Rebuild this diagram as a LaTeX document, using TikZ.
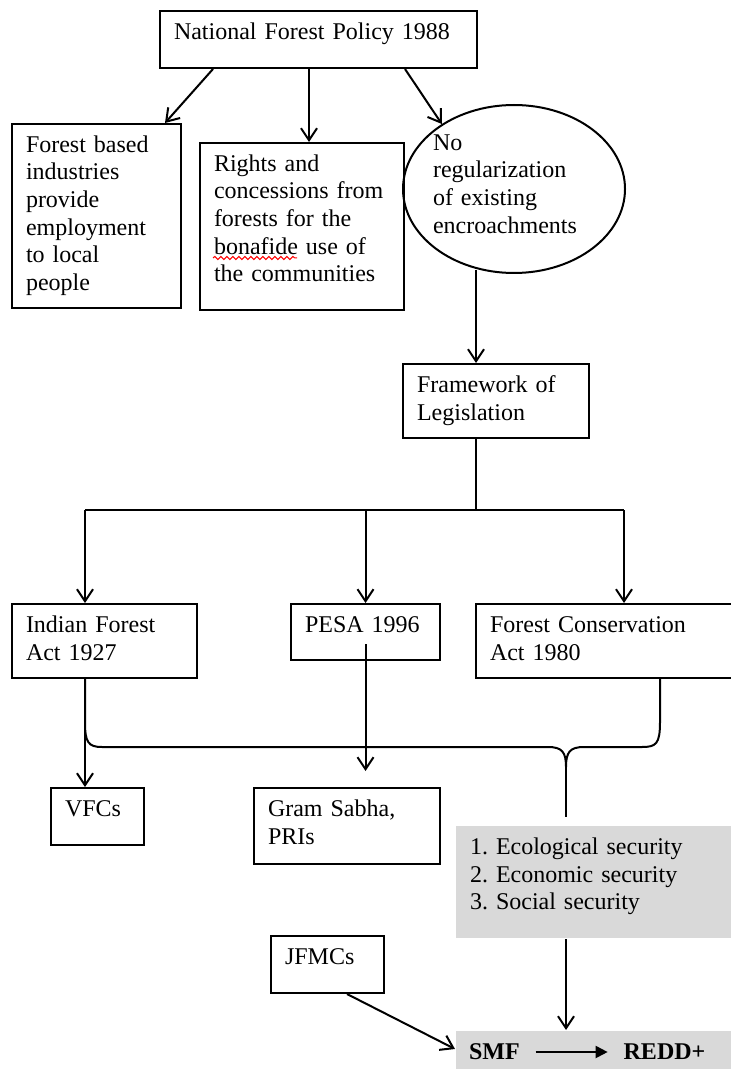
\documentclass[tikz,border=0pt]{standalone}
\usepackage{fontspec}
\setmainfont{Liberation Serif}
\usetikzlibrary{arrows.meta,positioning,shapes.geometric,decorations.pathmorphing}
\definecolor{secgray}{RGB}{217,217,217}

\begin{document}
\begin{tikzpicture}[x=0.5pt, y=-0.5pt, >={Straight Barb[length=6pt,width=8pt]}, line width=1pt,
    font=\fontsize{12}{13.8}\selectfont\frenchspacing,
    wbox/.style={draw, anchor=north west, align=left, inner xsep=7pt, inner ysep=0pt, text height=14.2pt}]
    \useasboundingbox (0,0) rectangle (730,1069);

    % Policy box
    \node[wbox, text width=144.5pt, text depth=14.3pt] (nfp) at (159,10) {National Forest Policy 1988};

    % Three outcomes of the policy
    \node[wbox, text width=70.5pt, text depth=77.8pt] (forest) at (11,123) {Forest based\\industries\\provide\\employment\\to local\\people};
    \node[wbox, text width=88pt, text depth=69.3pt] (rights) at (199,142) {Rights and\\concessions from\\forests for the\\bonafide use of\\the communities};
    \node[draw, ellipse, minimum width=111pt, minimum height=84pt, align=left, text width=81pt, inner xsep=-2pt, inner ysep=0pt, text height=8pt, text depth=46.6pt] (noreg) at (514,189) {No\\regularization\\of existing\\encroachments};

    % Spell-check mark
    \draw[red, line width=0.5pt, decorate, decoration={snake, amplitude=0.8pt, segment length=3pt}] ([shift={(7pt,-58pt)}]rights.north west) -- ++(84,0);

    % Legislation
    \node[wbox, text width=79pt, text depth=22.8pt] (fw) at (402,363) {Framework of\\Legislation};
    \node[wbox, text width=78.5pt, text depth=22.8pt] (ind) at (11,603) {Indian Forest\\Act 1927};
    \node[wbox, text width=60.5pt, text depth=13.8pt] (pesa) at (290,603) {PESA 1996};
    \node[wbox, text width=134pt, text depth=22.8pt] (fca) at (475,603) {Forest Conservation\\Act 1980};

    % Institutions and goals
    \node[wbox, text width=32.5pt, text depth=14.3pt] (vfc) at (50,787) {VFCs};
    \node[wbox, text width=79pt, text depth=23.8pt] (gram) at (253,787) {Gram Sabha,\\PRIs};
    \node[wbox, draw=none, fill=secgray, text width=134pt, text depth=41.8pt] (sec) at (455,825) {1. Ecological security\\2. Economic security\\3. Social security};
    \node[wbox, text width=42.5pt, text depth=14.3pt] (jfmc) at (270,935) {JFMCs};

    % SMF -> REDD+
    \node[fill=secgray, anchor=north west, minimum width=148pt, minimum height=25pt, inner sep=0pt] (smfbox) at (455,1030) {};
    \node[anchor=west, inner xsep=7.5pt, font=\fontsize{12}{13.8}\selectfont\bfseries] (smf) at (453,1052) {SMF};
    \node[right=36pt of smf, inner xsep=7.5pt, font=\fontsize{12}{13.8}\selectfont\bfseries] (redd) {REDD+};

    \coordinate (trunk) at (476,510);
    \coordinate (busL) at (85,510);
    \coordinate (bracetip) at (566,767);

    % Policy arrows
    \draw[->] ([xshift=27pt]nfp.south west) -- ([xshift=-8.5pt]forest.north east);
    \draw[->] ([xshift=3.5pt]rights.north |- nfp.south) -- ([xshift=3.5pt]rights.north);
    \draw[->] ([xshift=-36.5pt]nfp.south east) -- (noreg.138);

    % Down to the acts
    \draw[->] ([yshift=2pt]trunk |- noreg.south) -- (trunk |- fw.north);
    \draw (trunk |- fw.south) -- (trunk);
    \draw (busL) -- (fca.north |- busL);
    \draw[->] (busL) -- (busL |- ind.north);
    \draw[->] (pesa.north |- busL) -- (pesa.north);
    \draw[->] (fca.north |- busL) -- (fca.north);

    % Acts to institutions
    \draw[->] (busL |- ind.south) -- (busL |- vfc.north);
    \draw[->] ([yshift=8.5pt]pesa.south) -- ([yshift=8pt]pesa.south |- gram.north);

    % Brace
    \draw (busL |- ind.south) -- (85,722) .. controls (85,742) and (88,747) .. (102,747) -- (548,747)
        .. controls (562,747) and (566,752) .. (bracetip) .. controls (566,752) and (570,747) .. (584,747)
        -- (642,747) .. controls (656,747) and (660,744) .. (660,722) -- (660,677);
    \draw (bracetip) -- ([yshift=4pt]bracetip |- sec.north);

    % Into SMF
    \draw[->] (bracetip |- sec.south) -- (bracetip |- smfbox.north);
    \draw[->] ([xshift=-19pt]jfmc.south east) -- ([yshift=3.5pt]smfbox.west);
    \draw[-{Triangle[length=6pt,width=6pt]}] (smf) -- (redd);
\end{tikzpicture}
\end{document}
